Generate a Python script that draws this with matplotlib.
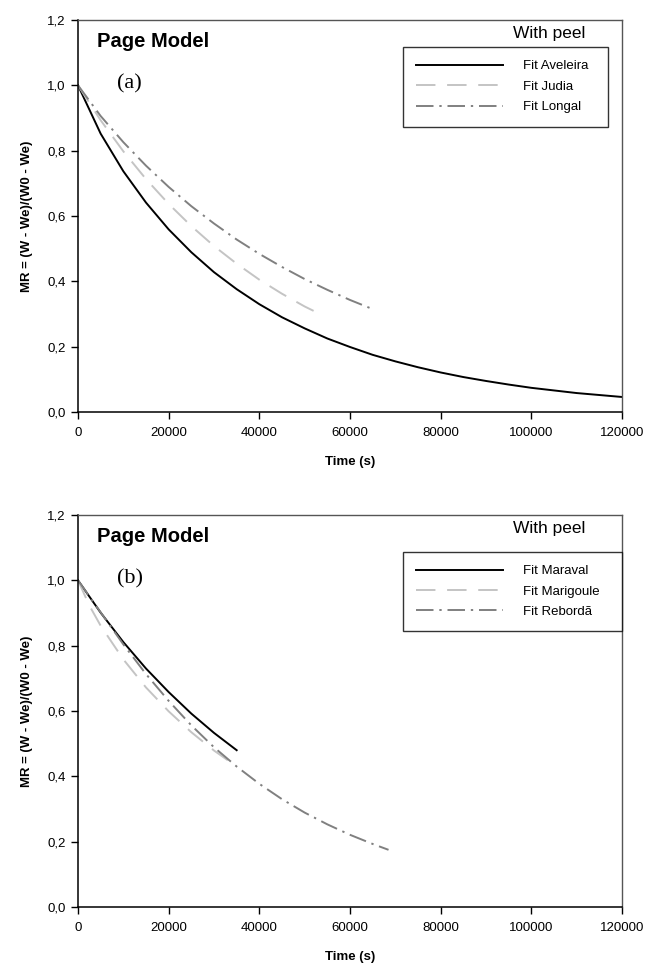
import matplotlib
matplotlib.use("Agg")
import matplotlib.pyplot as plt
from matplotlib.ticker import FuncFormatter

plt.rcParams['font.family'] = ['Liberation Sans', 'DejaVu Sans']

# ---- Panel (a) data: time (s) and MR ----
t_aveleira = [0, 5000, 10000, 15000, 20000, 25000, 30000, 35000, 40000, 45000, 50000,
              55000, 60000, 65000, 70000, 75000, 80000, 85000, 90000, 95000, 100000,
              105000, 110000, 115000, 120000]
mr_aveleira = [1.0, 0.852, 0.737, 0.641, 0.559, 0.489, 0.428, 0.376, 0.330, 0.290, 0.256,
               0.225, 0.199, 0.175, 0.155, 0.137, 0.121, 0.107, 0.095, 0.084, 0.074,
               0.066, 0.058, 0.052, 0.046]

t_judia = [0, 5000, 10000, 15000, 20000, 25000, 30000, 35000, 40000, 45000, 50000, 52500]
mr_judia = [1.0, 0.893, 0.798, 0.713, 0.637, 0.569, 0.508, 0.454, 0.405, 0.362, 0.323, 0.306]

t_longal = [0, 5000, 10000, 15000, 20000, 25000, 30000, 35000, 40000, 45000, 50000,
            55000, 60000, 65000]
mr_longal = [1.0, 0.906, 0.826, 0.754, 0.689, 0.630, 0.577, 0.528, 0.484, 0.444, 0.407,
             0.374, 0.343, 0.315]

# ---- Panel (b) data ----
t_maraval = [0, 5000, 10000, 15000, 20000, 25000, 30000, 35000]
mr_maraval = [1.0, 0.901, 0.811, 0.730, 0.658, 0.592, 0.533, 0.480]

t_marigoule = [0, 2500, 5000, 10000, 15000, 20000, 25000, 30000, 35000]
mr_marigoule = [1.0, 0.923, 0.861, 0.758, 0.672, 0.599, 0.535, 0.479, 0.430]

t_reborda = [0, 5000, 10000, 15000, 20000, 25000, 30000, 35000, 40000, 45000, 50000,
             55000, 60000, 65000, 68500]
mr_reborda = [1.0, 0.902, 0.804, 0.713, 0.631, 0.556, 0.489, 0.430, 0.377, 0.330, 0.289,
              0.253, 0.221, 0.193, 0.175]

x_ticks = [0, 20000, 40000, 60000, 80000, 100000, 120000]
y_ticks = [0.0, 0.2, 0.4, 0.6, 0.8, 1.0, 1.2]

panels = [
    dict(label="(a)",
         series=[("Fit Aveleira", t_aveleira, mr_aveleira),
                 ("Fit Judia", t_judia, mr_judia),
                 ("Fit Longal", t_longal, mr_longal)],
         rect=[78/649, 1-412/971, 544/649, 392/971],
         leg=(0.597, 0.931, 0.974 - 0.597)),
    dict(label="(b)",
         series=[("Fit Maraval", t_maraval, mr_maraval),
                 ("Fit Marigoule", t_marigoule, mr_marigoule),
                 ("Fit Rebordã", t_reborda, mr_reborda)],
         rect=[78/649, 1-907/971, 544/649, 392/971],
         leg=(0.597, 0.906, 1.0 - 0.597)),
]

styles = [dict(color='black', lw=1.4, ls='-'),
          dict(color='#c4c4c4', lw=1.4, ls=(0, (10, 6))),
          dict(color='#808080', lw=1.4, ls=(0, (9, 3, 1.2, 3)))]

fig = plt.figure(figsize=(6.49, 9.71), dpi=100)

for p in panels:
    ax = fig.add_axes(p["rect"])
    for (name, t, mr), st in zip(p["series"], styles):
        ax.plot(t, mr, label=name, **st)
    ax.set_xlim(0, 120000)
    ax.set_ylim(0, 1.2)
    ax.set_xticks(x_ticks)
    ax.set_yticks(y_ticks)
    ax.yaxis.set_major_formatter(FuncFormatter(lambda v, pos: f"{v:.1f}".replace('.', ',')))
    ax.xaxis.set_major_formatter(FuncFormatter(lambda v, pos: f"{int(v)}"))
    ax.tick_params(direction='out', length=5, width=1, labelsize=9.5, pad=4)
    ax.tick_params(axis='x', pad=6)
    for s in ['left', 'bottom']:
        ax.spines[s].set_color('black')
        ax.spines[s].set_linewidth(1.1)
    for s in ['top', 'right']:
        ax.spines[s].set_color('#555555')
        ax.spines[s].set_linewidth(1.0)
    ax.set_xlabel("Time (s)", fontsize=9.5, fontweight='bold', labelpad=12)
    ax.set_ylabel("MR = (W - We)/(W0 - We)", fontsize=9.5, fontweight='bold', labelpad=10)

    ax.text(0.035, 0.93, "Page Model", transform=ax.transAxes, fontsize=14.5,
            fontweight='bold', va='baseline', ha='left')
    ax.text(0.072, 0.825, p["label"], transform=ax.transAxes, fontsize=16,
            family=['Liberation Serif', 'DejaVu Serif'], va='baseline', ha='left')
    ax.text(0.932, 0.955, "With peel", transform=ax.transAxes, fontsize=12.5,
            va='baseline', ha='right')

    x0, ytop, w = p["leg"]
    leg = ax.legend(loc='upper left', bbox_to_anchor=(x0, ytop - 0.3, w, 0.3),
                    mode='expand', borderaxespad=0, fancybox=False, frameon=True,
                    edgecolor='black', fontsize=9.5, handlelength=6.6, handletextpad=1.5,
                    labelspacing=0.62, borderpad=1.0)
    leg.get_frame().set_linewidth(1.0)

fig.savefig("out.png", dpi=100)
